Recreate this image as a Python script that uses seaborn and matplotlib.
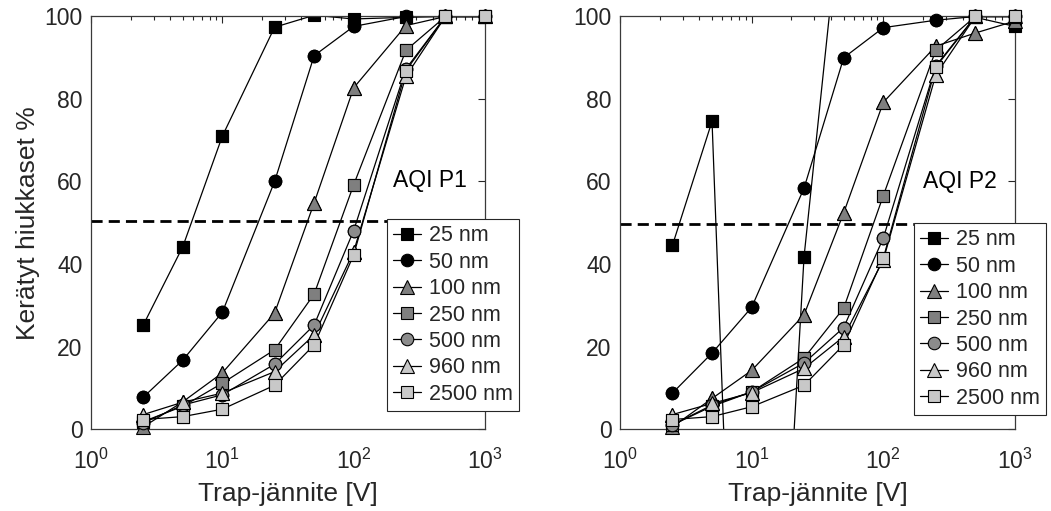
import numpy as np
import pandas as pd
import matplotlib
matplotlib.use("Agg")
import matplotlib.pyplot as plt
import seaborn as sns

sns.set_style("white")
plt.rcParams['font.family'] = ['Liberation Sans', 'DejaVu Sans']
plt.rcParams['mathtext.fontset'] = 'custom'
plt.rcParams['mathtext.rm'] = 'Liberation Sans'
plt.rcParams['mathtext.it'] = 'Liberation Sans'

# ---------------- data ----------------
voltage = [2.5, 5, 10, 25, 50, 100, 250, 500, 1000]
size_labels = ['25 nm', '50 nm', '100 nm', '250 nm', '500 nm', '960 nm', '2500 nm']

p1_25 = [25.2, 44.2, 71.0, 97.4, 100.3, 99.4, 99.8, 100, 100]
p1_50 = [7.7, 16.7, 28.3, 60.0, 90.5, 97.6, 100, 100, 100]
p1_100 = [0.5, 6.6, 13.6, 28.1, 54.8, 82.7, 97.8, 100, 100]
p1_250 = [1.8, 5.5, 11.1, 19.2, 32.7, 59.2, 91.8, 100, 100]
p1_500 = [1.5, 5.8, 8.3, 15.7, 25.2, 48.1, 87.3, 100, 100]
p1_960 = [3.5, 6.5, 8.7, 13.9, 22.8, 43.0, 85.5, 100, 100]
p1_2500 = [2.3, 3.0, 4.8, 10.6, 20.4, 42.2, 86.9, 100, 100]

p2_25 = [44.5, 74.6, -180, 41.8, 133.5, 105, 100.2, 99.8, 97.6]
p2_50 = [8.7, 18.4, 29.5, 58.4, 90.0, 97.3, 99.1, 100, 100]
p2_100 = [0.5, 7.4, 14.2, 27.7, 52.4, 79.2, 92.8, 96.0, 98.9]
p2_250 = [1.0, 5.5, 9.0, 17.2, 29.3, 56.6, 91.8, 100, 100]
p2_500 = [1.0, 5.8, 9.0, 16.0, 24.6, 46.3, 88.0, 100, 100]
p2_960 = [3.5, 6.2, 8.8, 14.7, 22.4, 41.0, 85.8, 100, 100]
p2_2500 = [2.3, 3.0, 5.4, 10.6, 20.4, 41.4, 87.7, 100, 100]

threshold_p1 = 50.5
threshold_p2 = 49.8
panel_names = ['AQI P1', 'AQI P2']
xlabel = 'Trap-jännite [V]'
ylabel = 'Kerätyt hiukkaset %'

# ---------------- styles ----------------
markers = ['s', 'o', '^', 's', 'o', '^', 's']
msizes = [8, 9, 10.5, 8, 9, 10.5, 8]
faces = ['black', 'black', '#7f7f7f', '#7f7f7f', '#8c8c8c', '#c8c8c8', '#c8c8c8']
ink = '#262626'

W, H = 1051, 511
fig = plt.figure(figsize=(W / 100, H / 100), dpi=100)
ax_bottom = (H - 429) / H
ax_height = (429 - 16.5) / H
ax1 = fig.add_axes([91 / W, ax_bottom, (485 - 91) / W, ax_height])
ax2 = fig.add_axes([620 / W, ax_bottom, (1015 - 620) / W, ax_height])

panels = [
    (ax1, [p1_25, p1_50, p1_100, p1_250, p1_500, p1_960, p1_2500], threshold_p1,
     panel_names[0], (198.6, 58.7), (387, 219)),
    (ax2, [p2_25, p2_50, p2_100, p2_250, p2_500, p2_960, p2_2500], threshold_p2,
     panel_names[1], (201, 58.5), (914, 223)),
]

for ax, series, thr, name, txtpos, legpos in panels:
    ax.set_xscale('log')
    ax.axhline(thr, color='black', lw=2, ls=(0, (4, 2.2)), zorder=1)
    for lab, ys, m, ms, fc in zip(size_labels, series, markers, msizes, faces):
        df = pd.DataFrame({'V': voltage, 'P': ys})
        sns.lineplot(data=df, x='V', y='P', ax=ax, color='black', lw=0.9,
                     marker=m, ms=ms, mfc=fc, mec='black', mew=0.8,
                     label=lab, zorder=2)
        inside = df[(df['P'] >= 0) & (df['P'] <= 100)]
        ax.plot(inside['V'], inside['P'], ls='none', marker=m, ms=ms, mfc=fc,
                mec='black', mew=0.8, clip_on=False, zorder=3)
    ax.set_xlim(1, 1000)
    ax.set_ylim(0, 100)
    ax.set_yticks([0, 20, 40, 60, 80, 100])
    ax.set_xticks([1, 10, 100, 1000])
    ax.tick_params(axis='both', which='major', direction='in', length=5, width=0.8,
                   top=True, right=True, labelsize=16.5, colors=ink)
    ax.tick_params(axis='both', which='minor', direction='in', length=3, width=0.8,
                   top=True, right=True, colors=ink)
    ax.tick_params(axis='x', which='major', pad=14)
    ax.tick_params(axis='y', which='major', pad=6)
    for sp in ax.spines.values():
        sp.set_visible(True)
        sp.set_color('#3a3a3a')
        sp.set_linewidth(0.9)
    ax.set_xlabel(xlabel, fontsize=19, color=ink, labelpad=6)
    ax.set_ylabel('')
    ax.text(txtpos[0], txtpos[1], name, fontsize=16.5, color='black',
            ha='left', va='baseline')
    handles, labels = ax.get_legend_handles_labels()
    leg = ax.legend(handles[:7], labels[:7], loc='upper left',
                    bbox_to_anchor=(legpos[0] / W, 1 - legpos[1] / H),
                    bbox_transform=fig.transFigure, borderaxespad=0,
                    fontsize=15.5, frameon=True, fancybox=False, framealpha=1,
                    edgecolor=ink, handlelength=1.3, handletextpad=0.35,
                    borderpad=0.3, labelspacing=0.25, numpoints=1)
    leg.get_frame().set_linewidth(0.8)
    leg.set_zorder(10)

ax1.set_ylabel(ylabel, fontsize=19, color=ink, labelpad=3)

fig.savefig('out.png', dpi=100)
